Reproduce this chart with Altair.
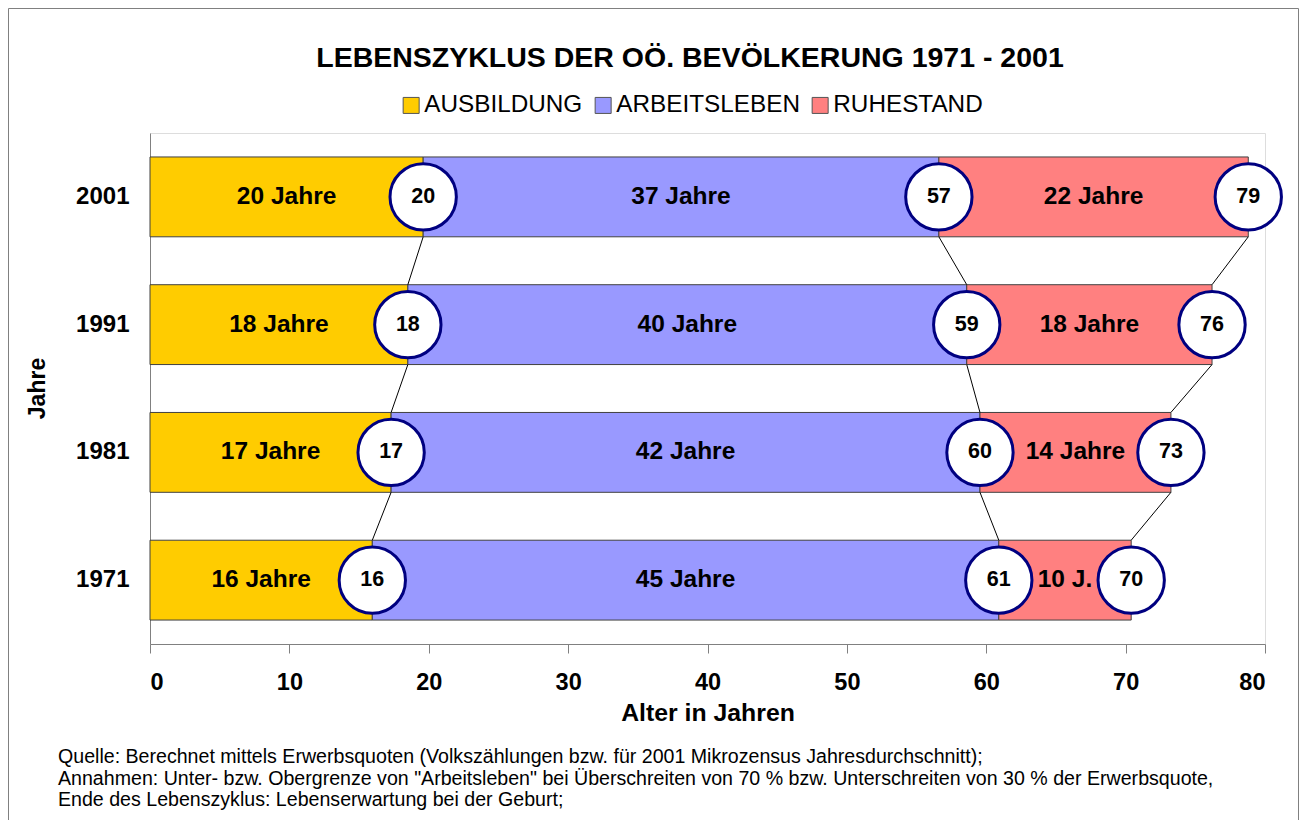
import altair as alt
import pandas as pd

# ---------------- data ----------------
years = ["2001", "1991", "1981", "1971"]
phases = ["AUSBILDUNG", "ARBEITSLEBEN", "RUHESTAND"]
colors = ["#FFCC00", "#9999FF", "#FF8080"]

ausbildung_end = [19.6, 18.5, 17.3, 15.95]
arbeit_end = [56.6, 58.6, 59.55, 60.9]
ruhe_end = [78.8, 76.2, 73.25, 70.4]

ausbildung_label = ["20 Jahre", "18 Jahre", "17 Jahre", "16 Jahre"]
arbeit_label = ["37 Jahre", "40 Jahre", "42 Jahre", "45 Jahre"]
ruhe_label = ["22 Jahre", "18 Jahre", "14 Jahre", "10 J."]

ausbildung_age = [20, 18, 17, 16]
arbeit_age = [57, 59, 60, 61]
ruhe_age = [79, 76, 73, 70]

x_ticks = [0, 10, 20, 30, 40, 50, 60, 70, 80]

title_text = "LEBENSZYKLUS DER OÖ. BEVÖLKERUNG 1971 - 2001"
x_title = "Alter in Jahren"
y_title = "Jahre"
footnote_lines = [
    "Quelle: Berechnet mittels Erwerbsquoten (Volkszählungen bzw. für 2001 Mikrozensus Jahresdurchschnitt);",
    "Annahmen: Unter- bzw. Obergrenze von \"Arbeitsleben\" bei Überschreiten von 70 % bzw. Unterschreiten von 30 % der Erwerbsquote,",
    "Ende des Lebenszyklus: Lebenserwartung bei der Geburt;",
]

FONT = "Liberation Sans"

# ---------------- tables ----------------
bar_rows = []
circle_rows = []
for i, yr in enumerate(years):
    bounds = [0, ausbildung_end[i], arbeit_end[i], ruhe_end[i]]
    labels = [ausbildung_label[i], arbeit_label[i], ruhe_label[i]]
    ages = [ausbildung_age[i], arbeit_age[i], ruhe_age[i]]
    for j, ph in enumerate(phases):
        bar_rows.append({"Jahr": yr, "Phase": ph, "start": bounds[j], "end": bounds[j + 1],
                         "mid": (bounds[j] + bounds[j + 1]) / 2, "label": labels[j]})
        circle_rows.append({"Jahr": yr, "x": bounds[j + 1], "age": str(ages[j])})
bars_df = pd.DataFrame(bar_rows)
circles_df = pd.DataFrame(circle_rows)

conn_rows = []
ends = [ausbildung_end, arbeit_end, ruhe_end]
for i in range(len(years) - 1):
    for e in ends:
        conn_rows.append({"y_up": years[i], "y_low": years[i + 1], "x_up": e[i], "x_low": e[i + 1]})
conn_df = pd.DataFrame(conn_rows)

one_df = pd.DataFrame({"k": [0]})

x_scale = alt.Scale(domain=[0, 80], nice=False, zero=True)
y_scale = alt.Scale(domain=years, paddingInner=0.375, paddingOuter=0.1875)

x_enc = alt.X("start:Q", scale=x_scale, title=x_title,
              axis=alt.Axis(values=x_ticks, grid=False, tickSize=9, labelPadding=17,
                            titlePadding=7, domainColor="#808080", tickColor="#808080",
                            labelFontSize=23.5, labelFontWeight="bold", labelColor="black",
                            titleFontSize=24.8, titleFontWeight="bold", titleColor="black",
                            labelFont=FONT, titleFont=FONT))
y_enc = alt.Y("Jahr:N", scale=y_scale, sort=years, title=y_title,
              axis=alt.Axis(ticks=False, labelPadding=21, domainColor="#808080",
                            labelFontSize=24, labelFontWeight="bold", labelColor="black",
                            titleFontSize=23, titleFontWeight="bold", titleColor="black",
                            titleX=-113, titleY=255, titleAngle=-90, titleBaseline="middle",
                            titleAlign="center", labelFont=FONT, titleFont=FONT))

bars = alt.Chart(bars_df).mark_bar(stroke="#404040", strokeWidth=1).encode(
    x=x_enc,
    x2="end:Q",
    y=y_enc,
    color=alt.Color("Phase:N", scale=alt.Scale(domain=phases, range=colors),
                    legend=alt.Legend(title=None, orient="none", direction="horizontal",
                                      legendX=249, legendY=-40, symbolType="square",
                                      symbolSize=256, symbolStrokeColor="#555555",
                                      symbolStrokeWidth=1, symbolOpacity=1,
                                      labelFontSize=24.3, labelFont=FONT, labelColor="black",
                                      labelLimit=500, labelOffset=1, columnPadding=8, padding=0)),
)

bar_text = alt.Chart(bars_df).mark_text(font=FONT, fontSize=24.5, fontWeight="bold", color="black",
                                        baseline="middle", align="center").encode(
    x=alt.X("mid:Q", scale=x_scale),
    y=alt.Y("Jahr:N", scale=y_scale, sort=years),
    text="label:N",
)

connectors = alt.Chart(conn_df).mark_rule(color="black", strokeWidth=1).encode(
    x=alt.X("x_up:Q", scale=x_scale),
    x2="x_low:Q",
    y=alt.Y("y_up:N", scale=y_scale, sort=years, bandPosition=1),
    y2=alt.Y2("y_low:N", bandPosition=0),
)

circles = alt.Chart(circles_df).mark_point(shape="circle", filled=True, fill="white", stroke="#000080",
                                           strokeWidth=3, size=4400, opacity=1).encode(
    x=alt.X("x:Q", scale=x_scale),
    y=alt.Y("Jahr:N", scale=y_scale, sort=years),
)

circle_text = alt.Chart(circles_df).mark_text(font=FONT, fontSize=21.5, fontWeight="bold", color="black",
                                              baseline="middle", align="center").encode(
    x=alt.X("x:Q", scale=x_scale),
    y=alt.Y("Jahr:N", scale=y_scale, sort=years),
    text="age:N",
)

title = alt.Chart(one_df).mark_text(font=FONT, fontSize=28.5, fontWeight="bold", color="black",
                                    align="center", baseline="middle", text=title_text).encode(
    x=alt.value(540), y=alt.value(-75))

foot = alt.Chart(one_df).mark_text(font=FONT, fontSize=19.6, color="black", align="left",
                                   baseline="middle", lineHeight=21.5, text=footnote_lines).encode(
    x=alt.value(-92), y=alt.value(624))

border = alt.Chart(one_df).mark_rect(filled=False, stroke="#808080", strokeWidth=1).encode(
    x=alt.value(-141.5), x2=alt.value(1148.5), y=alt.value(-124.5), y2=alt.value(800))

chart = alt.layer(border, bars, connectors, circles, circle_text, bar_text, title, foot).properties(
    width=1115, height=511,
    autosize=alt.AutoSizeParams(type="none"),
    padding={"left": 142, "top": 125, "right": 34, "bottom": 176},
).configure_view(stroke=None).configure(font=FONT, background="white")

chart.save("out.html", embed_options={"renderer": "svg", "actions": False})
